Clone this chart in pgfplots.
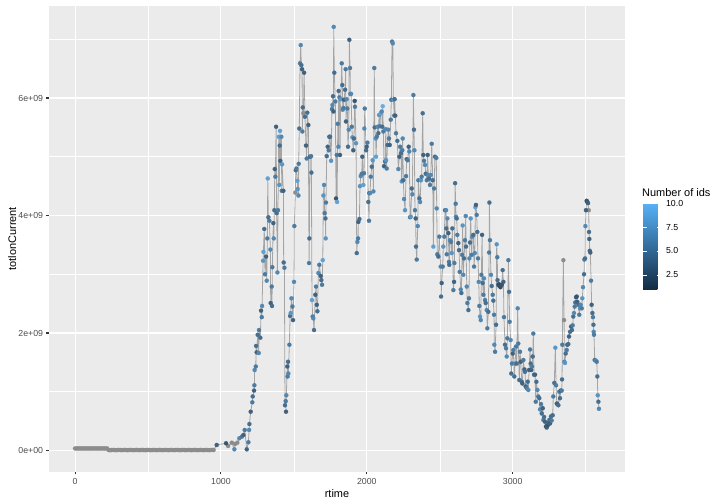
\documentclass[border=0pt]{standalone}
\usepackage{pgfplots}
\usepackage{pgfplotstable}
\pgfplotsset{compat=1.18}
\usepackage{fontspec}
\setmainfont{Liberation Sans}
\definecolor{panelbg}{HTML}{EBEBEB}
\definecolor{ticklab}{HTML}{4D4D4D}
\definecolor{tickcol}{HTML}{333333}
\definecolor{nagray}{HTML}{7F7F7F}
\definecolor{napt}{RGB}{140,140,140}
\pgfplotstableread[row sep=\\]{
t y m\\
0 0.035e9 0\\ 10 0.035e9 0\\ 20 0.035e9 0\\ 30 0.035e9 0\\ 40 0.035e9 0\\ 50 0.035e9 0\\ 60 0.035e9 0\\ 70 0.035e9 0\\
80 0.035e9 0\\ 90 0.035e9 0\\ 100 0.035e9 0\\ 110 0.035e9 0\\ 120 0.035e9 0\\ 130 0.035e9 0\\ 140 0.035e9 0\\ 150 0.035e9 0\\
160 0.035e9 0\\ 170 0.035e9 0\\ 180 0.035e9 0\\ 190 0.035e9 0\\ 200 0.035e9 0\\ 210 0.035e9 0\\ 220 0.035e9 0\\
230 0.008e9 0\\ 240 0.006e9 0\\ 250 0.008e9 0\\ 260 0.010e9 0\\ 270 0.008e9 0\\ 280 0.006e9 0\\ 290 0.008e9 0\\ 300 0.010e9 0\\
310 0.008e9 0\\ 320 0.006e9 0\\ 330 0.008e9 0\\ 340 0.010e9 0\\ 350 0.008e9 0\\ 360 0.006e9 0\\ 370 0.008e9 0\\ 380 0.010e9 0\\
390 0.008e9 0\\ 400 0.006e9 0\\ 410 0.008e9 0\\ 420 0.010e9 0\\ 430 0.008e9 0\\ 440 0.006e9 0\\ 450 0.008e9 0\\ 460 0.010e9 0\\
470 0.008e9 0\\ 480 0.006e9 0\\ 490 0.008e9 0\\ 500 0.010e9 0\\ 510 0.008e9 0\\ 520 0.006e9 0\\ 530 0.008e9 0\\ 540 0.010e9 0\\
550 0.008e9 0\\ 560 0.006e9 0\\ 570 0.008e9 0\\ 580 0.010e9 0\\ 590 0.008e9 0\\ 600 0.006e9 0\\ 610 0.008e9 0\\ 620 0.010e9 0\\
630 0.008e9 0\\ 640 0.006e9 0\\ 650 0.008e9 0\\ 660 0.010e9 0\\ 670 0.008e9 0\\ 680 0.006e9 0\\ 690 0.008e9 0\\ 700 0.010e9 0\\
710 0.008e9 0\\ 720 0.006e9 0\\ 730 0.008e9 0\\ 740 0.010e9 0\\ 750 0.008e9 0\\ 760 0.006e9 0\\ 770 0.008e9 0\\ 780 0.010e9 0\\
790 0.008e9 0\\ 800 0.006e9 0\\ 810 0.008e9 0\\ 820 0.010e9 0\\ 830 0.008e9 0\\ 840 0.006e9 0\\ 850 0.008e9 0\\ 860 0.010e9 0\\
870 0.008e9 0\\ 880 0.006e9 0\\ 890 0.008e9 0\\ 900 0.010e9 0\\ 910 0.008e9 0\\ 920 0.006e9 0\\ 930 0.008e9 0\\ 940 0.010e9 0\\ 950 0.008e9 0\\
971 0.094e9 3\\ 1035 0.123e9 2\\ 1049 0.077e9 0\\ 1074 0.133e9 0\\ 1092 0.020e9 6\\ 1097 0.111e9 0\\ 1112 0.133e9 0\\ 1126 0.208e9 6\\
1143 0.235e9 5\\ 1154 0.264e9 3\\ 1163 0.349e9 5\\ 1177 0.020e9 3\\
1188 0.14e9 5\\ 1193 0.35e9 6\\ 1195 0.45e9 4\\ 1204 0.66e9 3\\ 1215 0.82e9 5\\ 1218 0.92e9 4\\ 1227 1.02e9 3\\ 1229 1.11e9 5\\
1231 1.37e9 6\\ 1239 1.43e9 5\\ 1241 1.78e9 4\\ 1245 1.67e9 3\\ 1252 1.97e9 4\\ 1259 1.66e9 6\\ 1261 2.05e9 5\\ 1270 1.92e9 4\\
1275 2.38e9 3\\ 1280 2.27e9 5\\ 1282 2.46e9 6\\ 1289 3.23e9 7\\ 1291 3.38e9 8\\ 1297 3.77e9 4\\ 1302 3.00e9 5\\ 1309 3.30e9 3\\
1314 2.89e9 6\\ 1318 3.61e9 5\\ 1321 4.63e9 8\\ 1325 3.97e9 4\\ 1332 3.91e9 5\\ 1339 3.42e9 6\\ 1341 2.51e9 3\\ 1348 2.79e9 5\\
1350 2.46e9 4\\ 1352 3.12e9 5\\ 1359 3.87e9 3\\ 1362 3.61e9 6\\ 1366 4.09e9 4\\ 1369 4.79e9 3\\ 1373 4.66e9 5\\ 1378 5.51e9 3\\
1382 4.04e9 4\\ 1387 3.03e9 6\\ 1391 4.09e9 5\\ 1396 5.34e9 8\\ 1400 4.52e9 7\\ 1403 5.19e9 4\\ 1405 5.44e9 8\\ 1407 4.93e9 3\\
1414 5.34e9 6\\ 1417 4.42e9 5\\ 1419 4.87e9 7\\ 1428 4.42e9 3\\ 1430 3.20e9 4\\ 1435 3.11e9 5\\ 1439 0.77e9 4\\ 1444 0.84e9 5\\
1446 0.66e9 3\\ 1448 0.94e9 6\\ 1455 1.43e9 3\\ 1457 1.26e9 5\\ 1460 1.51e9 4\\ 1462 1.31e9 6\\ 1469 1.80e9 5\\ 1474 2.29e9 4\\
1478 2.34e9 7\\ 1483 2.59e9 6\\ 1490 2.45e9 5\\ 1494 2.22e9 3\\ 1501 2.87e9 6\\ 1503 3.82e9 5\\ 1510 4.39e9 0\\ 1513 4.77e9 4\\
1517 4.80e9 5\\ 1524 4.59e9 8\\ 1526 4.45e9 7\\ 1531 4.34e9 6\\ 1533 4.88e9 5\\ 1537 5.48e9 4\\ 1542 6.59e9 5\\ 1547 6.90e9 6\\
1551 6.56e9 4\\ 1556 6.49e9 3\\ 1558 5.43e9 5\\ 1561 5.84e9 4\\ 1565 5.74e9 0\\ 1570 6.43e9 3\\ 1576 5.68e9 4\\ 1583 5.19e9 3\\
1588 4.97e9 5\\ 1592 5.75e9 4\\ 1599 5.54e9 3\\ 1604 3.19e9 5\\ 1606 3.61e9 4\\ 1611 5.00e9 3\\ 1618 5.01e9 5\\ 1620 4.73e9 4\\
1624 2.56e9 8\\ 1629 2.28e9 5\\ 1633 2.25e9 6\\ 1638 2.05e9 4\\ 1647 2.65e9 3\\ 1652 2.79e9 5\\ 1657 2.48e9 3\\ 1661 2.37e9 4\\
1668 3.02e9 6\\ 1674 3.16e9 5\\ 1684 2.97e9 3\\ 1688 2.90e9 4\\ 1693 2.82e9 5\\ 1698 3.24e9 8\\ 1702 4.34e9 7\\ 1707 4.52e9 6\\
1711 4.04e9 5\\ 1716 3.95e9 4\\ 1718 3.61e9 7\\ 1720 4.22e9 5\\ 1725 5.01e9 4\\ 1732 5.17e9 3\\ 1739 5.11e9 5\\ 1743 5.34e9 3\\
1748 5.34e9 4\\ 1755 4.93e9 7\\ 1761 5.81e9 5\\ 1764 5.88e9 6\\ 1768 6.03e9 4\\ 1771 5.77e9 3\\ 1773 7.21e9 6\\ 1777 6.43e9 4\\
1784 5.94e9 5\\ 1789 4.29e9 2\\ 1794 5.03e9 5\\ 1796 4.23e9 8\\ 1801 5.56e9 5\\ 1805 5.17e9 6\\ 1807 6.12e9 4\\ 1812 6.01e9 5\\
1816 5.03e9 3\\ 1821 5.98e9 7\\ 1828 6.59e9 5\\ 1832 6.22e9 4\\ 1835 5.80e9 6\\ 1839 5.83e9 5\\ 1844 5.97e9 3\\ 1851 6.14e9 4\\
1855 6.49e9 5\\ 1857 5.60e9 3\\ 1862 5.98e9 6\\ 1866 5.82e9 5\\ 1871 5.17e9 4\\ 1876 5.46e9 6\\ 1880 6.99e9 3\\ 1885 6.51e9 5\\
1887 6.07e9 4\\ 1892 6.07e9 6\\ 1897 5.51e9 5\\ 1901 5.33e9 7\\ 1907 5.11e9 3\\ 1912 5.31e9 4\\ 1917 5.95e9 2\\ 1919 5.85e9 5\\
1926 5.23e9 7\\ 1931 3.36e9 4\\ 1935 3.55e9 6\\ 1940 3.61e9 5\\ 1942 3.89e9 3\\ 1949 3.94e9 4\\ 1953 4.50e9 7\\ 1958 4.67e9 6\\
1965 4.71e9 5\\ 1969 5.00e9 3\\ 1976 4.52e9 8\\ 1981 4.72e9 5\\ 1983 5.48e9 6\\ 1986 5.82e9 5\\ 1995 5.11e9 4\\ 1999 5.17e9 3\\
2004 5.24e9 5\\ 2010 4.23e9 4\\ 2015 3.91e9 5\\ 2017 4.38e9 3\\ 2022 4.38e9 6\\ 2027 4.66e9 5\\ 2034 4.83e9 4\\ 2040 4.94e9 7\\
2045 4.41e9 6\\ 2051 6.51e9 5\\ 2054 5.50e9 4\\ 2061 5.31e9 7\\ 2063 5.00e9 8\\ 2068 5.34e9 5\\ 2075 5.51e9 6\\ 2079 5.40e9 4\\
2084 5.71e9 7\\ 2090 5.52e9 5\\ 2095 5.74e9 8\\ 2102 5.77e9 6\\ 2106 5.51e9 4\\ 2109 5.86e9 9\\ 2113 5.43e9 5\\ 2118 4.84e9 3\\
2125 4.92e9 4\\ 2130 5.47e9 6\\ 2132 4.94e9 7\\ 2136 4.80e9 5\\ 2141 5.20e9 4\\ 2147 5.46e9 6\\ 2152 5.31e9 5\\ 2157 5.20e9 3\\
2164 5.63e9 5\\ 2168 5.97e9 4\\ 2173 6.96e9 5\\ 2178 6.93e9 6\\ 2182 5.97e9 7\\ 2188 5.70e9 5\\ 2191 5.98e9 4\\ 2195 5.70e9 3\\
2200 5.40e9 5\\ 2209 5.27e9 4\\ 2216 4.79e9 6\\ 2223 5.00e9 3\\ 2228 5.17e9 5\\ 2234 5.06e9 4\\ 2239 4.58e9 7\\ 2243 5.11e9 5\\
2246 5.31e9 6\\ 2250 4.60e9 4\\ 2255 4.28e9 6\\ 2262 4.09e9 7\\ 2269 4.67e9 5\\ 2273 4.96e9 4\\ 2280 4.94e9 5\\ 2287 5.17e9 3\\
2291 5.09e9 6\\ 2296 3.97e9 5\\ 2301 3.98e9 7\\ 2308 4.46e9 4\\ 2312 4.36e9 6\\ 2319 6.05e9 5\\ 2323 5.46e9 4\\ 2326 5.11e9 6\\
2330 4.09e9 5\\ 2335 3.95e9 3\\ 2337 3.47e9 4\\ 2342 3.25e9 5\\ 2349 3.82e9 6\\ 2353 4.60e9 5\\ 2360 4.29e9 4\\ 2365 4.23e9 6\\
2371 4.60e9 7\\ 2376 4.66e9 5\\ 2383 5.74e9 4\\ 2387 5.03e9 3\\ 2392 4.93e9 5\\ 2399 4.86e9 6\\ 2404 4.71e9 4\\ 2411 4.60e9 5\\
2417 5.03e9 3\\ 2421 4.69e9 6\\ 2426 4.63e9 4\\ 2433 4.52e9 5\\ 2438 4.69e9 6\\ 2445 5.22e9 5\\ 2452 4.60e9 4\\ 2456 3.47e9 8\\
2461 4.46e9 5\\ 2467 5.00e9 4\\ 2476 4.98e9 5\\ 2479 4.12e9 6\\ 2483 3.34e9 5\\ 2490 3.30e9 4\\ 2497 3.64e9 5\\ 2506 3.13e9 6\\
2509 2.62e9 4\\ 2513 2.85e9 3\\ 2520 3.13e9 5\\ 2524 3.47e9 7\\ 2531 3.64e9 5\\ 2536 4.09e9 4\\ 2543 4.09e9 6\\ 2545 3.78e9 4\\
2548 3.34e9 5\\ 2552 3.95e9 6\\ 2559 3.70e9 3\\ 2563 3.21e9 5\\ 2565 3.16e9 4\\ 2570 3.58e9 6\\ 2577 3.55e9 5\\ 2582 3.36e9 7\\
2586 3.78e9 4\\ 2593 2.73e9 5\\ 2598 2.87e9 3\\ 2600 3.19e9 5\\ 2605 4.55e9 4\\ 2609 4.20e9 5\\ 2611 3.98e9 6\\ 2616 3.95e9 4\\
2620 3.67e9 5\\ 2627 3.53e9 3\\ 2632 3.41e9 4\\ 2637 3.04e9 5\\ 2644 2.74e9 6\\ 2648 2.68e9 4\\ 2653 3.33e9 5\\ 2657 3.83e9 7\\
2661 2.99e9 6\\ 2666 3.27e9 4\\ 2673 3.58e9 5\\ 2678 3.99e9 6\\ 2680 3.47e9 4\\ 2685 2.79e9 6\\ 2689 2.51e9 5\\ 2696 2.39e9 4\\
2700 2.59e9 5\\ 2703 3.27e9 6\\ 2707 3.54e9 4\\ 2712 3.95e9 7\\ 2719 3.33e9 5\\ 2723 3.64e9 6\\ 2730 3.67e9 4\\ 2735 3.13e9 5\\
2740 3.36e9 6\\ 2744 4.14e9 8\\ 2748 4.18e9 3\\ 2753 4.01e9 5\\ 2757 3.72e9 4\\ 2762 3.27e9 5\\ 2767 2.87e9 6\\ 2771 2.46e9 5\\
2776 2.28e9 7\\ 2781 2.22e9 6\\ 2785 2.99e9 5\\ 2790 3.67e9 3\\ 2794 2.85e9 4\\ 2799 2.65e9 5\\ 2803 2.93e9 6\\ 2810 2.56e9 5\\
2815 2.51e9 4\\ 2822 2.39e9 6\\ 2826 2.08e9 5\\ 2833 2.36e9 4\\ 2838 3.37e9 5\\ 2840 4.22e9 4\\ 2844 3.58e9 5\\ 2851 2.99e9 6\\
2856 2.80e9 4\\ 2863 2.65e9 5\\ 2867 2.55e9 4\\ 2872 2.31e9 5\\ 2874 1.80e9 6\\ 2879 1.68e9 5\\ 2886 2.14e9 4\\ 2890 3.51e9 7\\
2894 3.29e9 5\\ 2896 2.90e9 4\\ 2901 2.82e9 3\\ 2906 2.83e9 1.5\\ 2909 2.80e9 1.5\\ 2913 2.81e9 1.2\\ 2916 2.78e9 1.5\\ 2925 2.82e9 2\\
2931 3.07e9 4\\ 2936 2.87e9 3\\ 2940 2.27e9 5\\ 2947 1.80e9 4\\ 2954 1.74e9 5\\ 2959 1.60e9 6\\ 2963 1.91e9 5\\ 2970 3.24e9 5\\
2975 2.70e9 4\\ 2979 2.19e9 5\\ 2986 1.88e9 6\\ 2990 1.31e9 4\\ 2995 1.48e9 5\\ 3000 1.65e9 3\\ 3004 1.71e9 5\\ 3011 1.26e9 4\\
3016 1.48e9 6\\ 3023 1.77e9 5\\ 3027 1.48e9 4\\ 3034 2.42e9 6\\ 3038 1.82e9 5\\ 3045 1.20e9 4\\ 3050 1.68e9 5\\ 3055 1.51e9 3\\
3062 1.17e9 4\\ 3066 1.14e9 3\\ 3073 1.54e9 5\\ 3080 1.38e9 3\\ 3084 1.34e9 4\\ 3089 1.09e9 3\\ 3096 1.06e9 5\\ 3103 1.17e9 4\\
3107 1.03e9 6\\ 3112 1.37e9 3\\ 3119 1.72e9 5\\ 3123 1.48e9 4\\ 3127 1.37e9 3\\ 3132 1.43e9 5\\ 3137 1.60e9 4\\ 3141 1.99e9 5\\
3146 1.29e9 4\\ 3153 1.29e9 3\\ 3158 0.83e9 5\\ 3162 1.17e9 4\\ 3169 1.03e9 6\\ 3175 0.92e9 5\\ 3182 0.89e9 4\\ 3187 0.70e9 6\\
3194 0.79e9 5\\ 3199 0.63e9 4\\ 3206 0.72e9 3\\ 3210 0.52e9 5\\ 3215 0.57e9 4\\ 3221 0.49e9 3\\ 3228 0.41e9 2\\ 3233 0.39e9 3\\
3240 0.43e9 2\\ 3244 0.47e9 3\\ 3251 0.52e9 4\\ 3256 0.46e9 3\\ 3262 0.58e9 4\\ 3267 0.51e9 5\\ 3274 0.60e9 4\\ 3278 0.92e9 5\\
3285 1.15e9 4\\ 3292 1.75e9 7\\ 3297 1.11e9 5\\ 3302 0.80e9 4\\ 3306 0.79e9 3\\ 3313 0.77e9 4\\ 3319 1.00e9 5\\ 3324 0.89e9 4\\
3329 1.02e9 3\\ 3336 1.02e9 5\\ 3338 1.21e9 4\\ 3340 1.80e9 5\\ 3347 3.24e9 0\\ 3352 2.22e9 0\\ 3354 1.51e9 6\\ 3358 1.49e9 7\\
3363 1.65e9 4\\ 3370 1.71e9 5\\ 3374 1.80e9 3\\ 3381 1.81e9 4\\ 3386 1.94e9 3\\ 3393 2.02e9 4\\ 3400 2.11e9 3\\ 3406 2.05e9 4\\
3411 2.13e9 5\\ 3415 2.28e9 4\\ 3420 2.34e9 6\\ 3425 2.45e9 5\\ 3429 2.52e9 4\\ 3434 2.61e9 3\\ 3439 2.62e9 2\\ 3443 2.53e9 3\\
3450 2.48e9 4\\ 3456 2.31e9 5\\ 3461 2.42e9 7\\ 3466 2.48e9 6\\ 3473 2.42e9 5\\ 3477 2.59e9 7\\ 3482 2.78e9 6\\ 3489 3.00e9 4\\
3491 3.25e9 5\\ 3496 3.27e9 4\\ 3498 3.82e9 6\\ 3502 4.09e9 3\\ 3507 4.25e9 2\\ 3511 4.23e9 2\\ 3516 4.21e9 3\\ 3521 4.09e9 0\\
3523 3.72e9 4\\ 3525 3.60e9 3\\ 3528 3.40e9 4\\ 3532 3.37e9 3\\ 3537 2.89e9 5\\ 3541 2.48e9 3\\ 3546 2.34e9 4\\ 3550 2.27e9 5\\
3553 2.14e9 4\\ 3555 2.02e9 6\\ 3557 1.97e9 5\\ 3562 1.54e9 4\\ 3569 1.53e9 6\\ 3576 1.51e9 5\\ 3580 1.26e9 4\\ 3583 0.94e9 7\\
3587 0.83e9 4\\ 3591 0.71e9 6\\
}\data
\begin{document}
\begin{tikzpicture}
\useasboundingbox (0,0) rectangle (720bp,504bp);
\begin{axis}[
  at={(48.8bp,32.35bp)}, anchor=south west,
  scale only axis, width=576.4bp, height=465.9bp,
  xmin=-180, xmax=3771, ymin=-0.36e9, ymax=7.57e9,
  axis background/.style={fill=panelbg},
  axis line style={draw=none},
  xtick={0,1000,2000,3000}, xticklabels={0,1000,2000,3000},
  ytick={0,2e9,4e9,6e9}, yticklabels={0e+00,2e+09,4e+09,6e+09},
  minor xtick={500,1500,2500,3500}, minor ytick={1e9,3e9,5e9,7e9},
  scaled x ticks=false, scaled y ticks=false,
  grid=both,
  major grid style={white, line width=1.07bp},
  minor grid style={white, line width=0.53bp},
  tick pos=left, tick align=outside,
  major tick length=2.74bp, minor tick length=0pt,
  tick style={color=tickcol, line width=1.07bp},
  xticklabel style={font=\fontsize{8.8}{10}\selectfont, text=ticklab, anchor=north, inner sep=0pt, yshift=-3.4bp},
  yticklabel style={font=\fontsize{8.8}{10}\selectfont, text=ticklab, anchor=east, inner sep=0pt, xshift=-2.8bp},
  xlabel={rtime},
  ylabel={totlonCurrent},
  xlabel style={font=\fontsize{11}{13}\selectfont, at={(axis description cs:0.5,-0.0545)}, anchor=base, inner sep=0pt},
  ylabel style={font=\fontsize{11}{13}\selectfont, at={(axis description cs:-0.0569,0.5)}, anchor=base, inner sep=0pt},
  colormap={gg}{rgb255(0cm)=(19,43,67) rgb255(1cm)=(86,177,247)},
  point meta min=1, point meta max=10,
  colorbar,
  colorbar style={
    at={(parent axis.south east)}, anchor=south west,
    xshift=9.4bp, yshift=182.6bp,
    width=17.3bp, height=85.7bp,
    ytick={2.5,5,7.5,10}, yticklabels={2.5,5.0,7.5,10.0},
    ytick pos=both, yticklabel pos=right,
    tick align=inside, major tick length=3.4bp,
    tick style={color=white, line width=0.5bp},
    axis line style={draw=none},
    yticklabel style={font=\fontsize{8.8}{10}\selectfont, text=black, anchor=west, inner sep=0pt, xshift=5.5bp},
  },
]
\addplot[draw=nagray, draw opacity=0.65, line width=0.8bp, no marks] table[x=t, y=y] {\data};
\addplot[only marks, mark=*, mark size=2.1bp, mark options={draw=napt, fill=napt, line width=0.1bp},
  restrict expr to domain={\thisrow{m}}{-1:0.5}] table[x=t, y=y] {\data};
\addplot[scatter, only marks, mark=*, mark size=2.1bp, scatter src=explicit,
  colormap={ggpt}{rgb255(0cm)=(51,72,92) rgb255(1cm)=(108,186,245)},
  scatter/use mapped color={draw=mapped color, fill=mapped color},
  mark options={line width=0.1bp},
  restrict expr to domain={\thisrow{m}}{0.9:11}] table[x=t, y=y, meta=m] {\data};
\end{axis}
\node[anchor=base west, inner sep=0pt, font=\fontsize{11}{13}\selectfont] at (642bp,307bp) {Number of ids};
\end{tikzpicture}
\end{document}
